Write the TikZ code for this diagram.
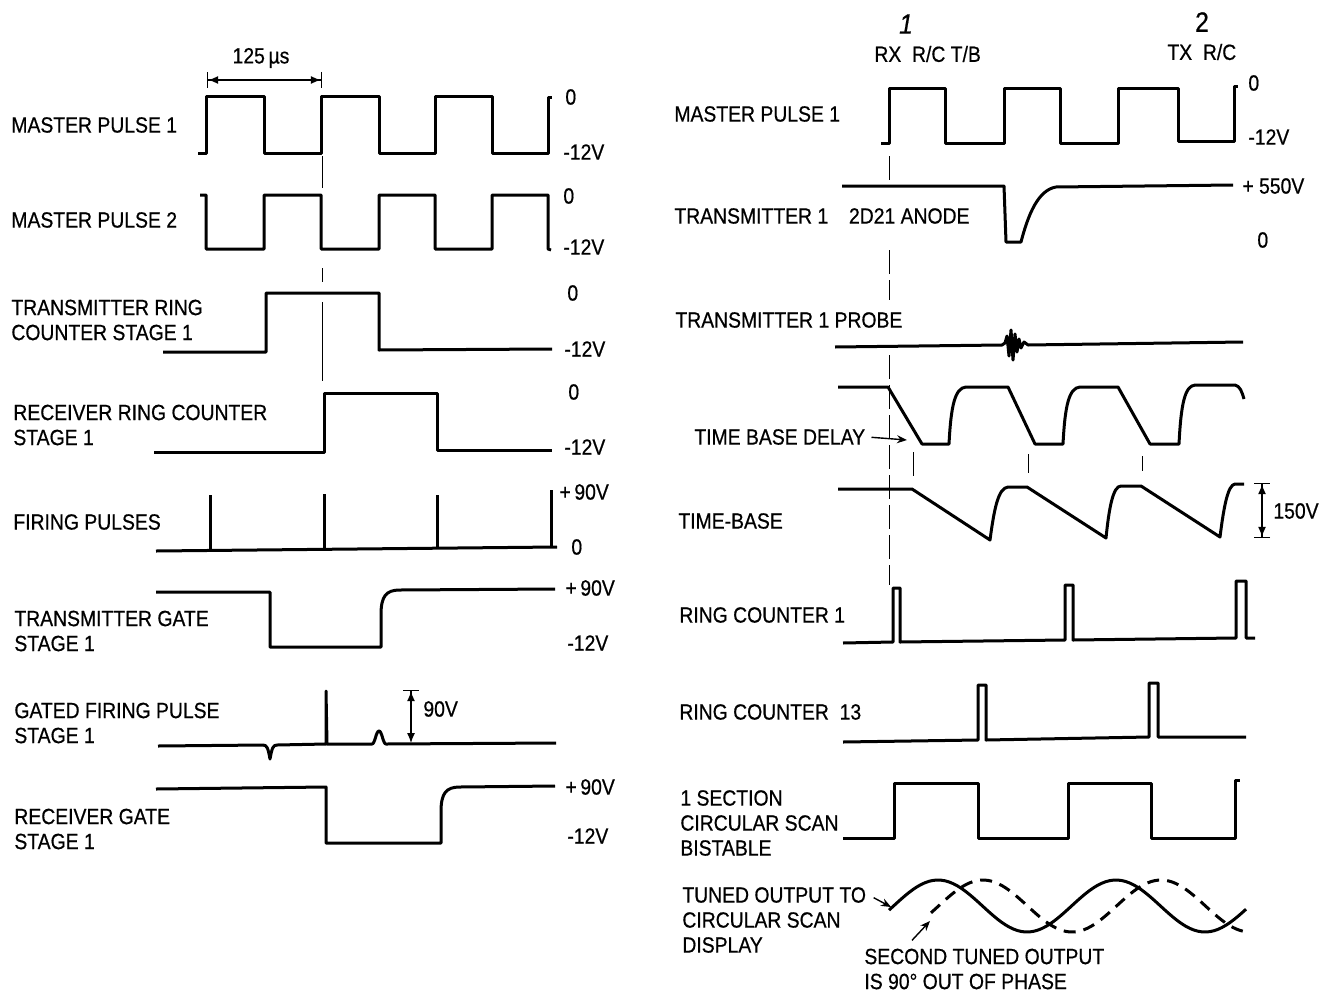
\documentclass[tikz,border=0pt]{standalone}
\usepackage{fontspec}
\setmainfont{Liberation Sans}[FakeStretch=0.88, FakeBold=0.6]
\usetikzlibrary{
  positioning,
  arrows.meta
}

\begin{document}
\begin{tikzpicture}[
  x=0.5pt, y=-0.5pt,
  every node/.style={font=\fontsize{11}{12.5}\selectfont, inner sep=1pt},
  lbl/.style={anchor=west, align=left},
  volt/.style={anchor=west},
  wave/.style={line width=1.5pt, line join=round},
  wave2/.style={wave, dash pattern=on 6pt off 4pt},
  guide/.style={line width=0.5pt},
  dimboth/.style={line width=0.6pt, {Bar[width=8pt]Latex[length=5pt,width=4pt]}-{Latex[length=5pt,width=4pt]Bar[width=8pt]}},
  dimup/.style={line width=0.6pt, {Bar[width=8pt]Latex[length=5pt,width=4pt]}-{Latex[length=5pt,width=4pt]}},
  arrow/.style={line width=0.7pt, ->, >={Stealth[length=5pt,width=4pt]}}
]
\useasboundingbox (0,0) rectangle (1326,995);

% Left column labels
\node[lbl] (mpA) at (9,125) {MASTER PULSE 1};
\node[lbl] (mpB) at (9,220) {MASTER PULSE 2};
\node[lbl] (txRing) at (9,320) {TRANSMITTER RING\\COUNTER STAGE 1};
\node[lbl] (rxRing) at (11,425) {RECEIVER RING COUNTER\\STAGE 1};
\node[lbl] (firing) at (11,522) {FIRING PULSES};
\node[lbl] (txGate) at (12,631) {TRANSMITTER GATE\\STAGE 1};
\node[lbl] (gated) at (12,723) {GATED FIRING PULSE\\STAGE 1};
\node[lbl] (rxGate) at (12,829) {RECEIVER GATE\\STAGE 1};

% Left column levels
\node (period) at (261,58) {125\,µs};
\node[volt] (mpAhi) at (563,97) {0};
\node[volt] (mpAlo) at (561,152) {-12V};
\node[volt] (mpBhi) at (561,196) {0};
\node[volt] (mpBlo) at (561,247) {-12V};
\node[volt] (txRinghi) at (565,293) {0};
\node[volt] (txRinglo) at (562,349) {-12V};
\node[volt] (rxRinghi) at (566,392) {0};
\node[volt] (rxRinglo) at (562,447) {-12V};
\node[volt] (firinghi) at (557,492) {+\,90V};
\node[volt] (firinglo) at (569,547) {0};
\node[volt] (txGatehi) at (563,588) {+\,90V};
\node[volt] (txGatelo) at (565,643) {-12V};
\node[volt] (gatedamp) at (421,709) {90V};
\node[volt] (rxGatehi) at (563,787) {+\,90V};
\node[volt] (rxGatelo) at (565,836) {-12V};

% Left column waveforms
\draw[wave] (198,153) -- (206,153) -- (206,97) -- (264,97) -- (264,153) -- (321,153) -- (321,97) -- (379,97) -- (379,153) -- (435,153) -- (435,97) -- (492,97) -- (492,153) -- (548,153) -- (548,98) -- (552,98);
\draw[wave] (200,195) -- (206,195) -- (206,249) -- (264,249) -- (264,195) -- (321,195) -- (321,249) -- (379,249) -- (379,195) -- (435,195) -- (435,249) -- (492,249) -- (492,195) -- (548,195) -- (548,249) -- (551,250);
\draw[wave] (163,352) -- (266,352) -- (266,293) -- (379,293) -- (379,350) -- (552,349);
\draw[wave] (154,452) -- (324,452) -- (324,393) -- (437,393) -- (437,450) -- (552,450);
\draw[wave] (156,551) -- (557,547);
\draw[wave] (210,550) -- (210,495) (324,550) -- (324,494) (437,549) -- (437,495) (551,547) -- (551,490);
\draw[wave] (156,592) -- (270,592) -- (270,647) -- (381,647) -- (381,615) .. controls (381,596) and (386,590) .. (400,590) -- (555,589);
\draw[wave] (158,746) -- (263,745) .. controls (267,745) and (268,748) .. (270,759) .. controls (272,748) and (273,745) .. (277,745) -- (326,744) -- (326,691) -- (327,744) -- (372,744) .. controls (375,744) and (376,731) .. (379,731) .. controls (382,731) and (383,744) .. (386,744) -- (556,743);
\draw[wave] (156,789) -- (326,787) -- (326,843) -- (441,843) -- (441,812) .. controls (441,793) and (446,787) .. (460,787) -- (555,786);

% Left column marks
\draw[guide] (322,156) -- (322,188) (322,268) -- (322,282) (322,302) -- (322,381);
\draw[dimboth] (207,80) -- (322,80);
\draw[dimup] (411,690) -- (411,743);

% Right column labels
\node (one) at (906,24) {\fontsize{14}{14}\selectfont\itshape 1};
\node (two) at (1202,22) {\fontsize{14}{14}\selectfont 2};
\node[volt] (rxTop) at (872,54) {RX\ \ R/C T/B};
\node[volt] (txTop) at (1165,52) {TX\ \ R/C};
\node[lbl] (mpR) at (672,114) {MASTER PULSE 1};
\node[lbl] (tx1) at (672,216) {TRANSMITTER 1};
\node[lbl, right=8pt of tx1] (anode) {2D21 ANODE};
\node[lbl] (probe) at (673,320) {TRANSMITTER 1 PROBE};
\node[lbl] (tbd) at (692,437) {TIME BASE DELAY};
\node[lbl] (timebase) at (676,521) {TIME-BASE};
\node[lbl] (rc1) at (677,615) {RING COUNTER 1};
\node[lbl] (rc13) at (677,712) {RING COUNTER\ \ 13};
\node[lbl] (bistable) at (678,823) {1 SECTION\\CIRCULAR SCAN\\BISTABLE};
\node[lbl] (tuned) at (680,920) {TUNED OUTPUT TO\\CIRCULAR SCAN\\DISPLAY};
\node[lbl] (second) at (862,969) {SECOND TUNED OUTPUT\\IS 90° OUT OF PHASE};

% Right column levels
\node[volt] (mpRhi) at (1246,83) {0};
\node[volt] (mpRlo) at (1246,137) {-12V};
\node[volt] (anodehi) at (1240,186) {+ 550V};
\node[volt] (anodelo) at (1255,240) {0};
\node[volt] (sweep) at (1271,511) {150V};

% Right column waveforms
\draw[wave] (881,143) -- (889,143) -- (889,89) -- (945,89) -- (945,143) -- (1004,143) -- (1004,89) -- (1060,89) -- (1060,143) -- (1118,143) -- (1118,89) -- (1178,89) -- (1178,141) -- (1234,141) -- (1234,87) -- (1238,87);
\draw[wave] (842,186) -- (1004,186) -- (1006,242) -- (1021,242) .. controls (1028,215) and (1038,190) .. (1056,187) -- (1233,185);
\draw[wave] (835,347) -- (1002,345) -- (1005,343) -- (1007,336) -- (1009,356) -- (1011,330) -- (1013,360) -- (1015,334) -- (1017,352) -- (1019,339) -- (1021,348) -- (1024,342) -- (1028,345) -- (1243,342);
\draw[wave] (838,387) -- (888,387) -- (922,444) -- (949,444) .. controls (951,405) and (955,388) .. (966,387) -- (1008,387) -- (1035,444) -- (1063,444) .. controls (1065,405) and (1069,388) .. (1080,387) -- (1118,387) -- (1150,444) -- (1179,444) .. controls (1181,403) and (1185,386) .. (1195,385) -- (1235,385) .. controls (1240,386) and (1242,392) .. (1244,399);
\draw[wave] (838,489) -- (912,489) -- (990,540) .. controls (994,510) and (998,488) .. (1008,487) -- (1027,487) -- (1106,538) .. controls (1109,508) and (1113,486) .. (1121,486) -- (1141,486) -- (1220,537) .. controls (1224,505) and (1228,485) .. (1235,484) -- (1244,484);
\draw[wave] (843,643) -- (893,642) -- (893,588) -- (900,588) -- (900,642) -- (1065,640) -- (1065,585) -- (1073,585) -- (1073,640) -- (1236,638) -- (1236,581) -- (1246,581) -- (1246,638) -- (1255,638);
\draw[wave] (843,742) -- (978,740) -- (978,685) -- (986,685) -- (986,740) -- (1149,737) -- (1149,683) -- (1158,683) -- (1158,737) -- (1246,737);
\draw[wave] (843,838) -- (894,838) -- (894,783) -- (978,783) -- (978,838) -- (1068,838) -- (1068,783) -- (1151,783) -- (1151,838) -- (1235,838) -- (1235,780) -- (1240,780);
\draw[wave, domain=889:1246, samples=90, variable=\t] plot (\t, {906 - 26*cos(2.0225*(\t-938))});
\draw[wave2, domain=931:1247, samples=90, variable=\t] plot (\t, {906 - 26*cos(2.0225*(\t-983))});

% Right column marks
\draw[guide, dash pattern=on 12pt off 3pt] (889,156) -- (889,180) (889,250) -- (889,300) (889,355) -- (889,585);
\draw[guide] (913,452) -- (913,476) (1028,454) -- (1028,473) (1142,456) -- (1142,471);
\draw[dimboth] (1262,483) -- (1262,538);

% Pointers
\coordinate (tbdTip) at (907,440);
\coordinate (tunedTip) at (891,907);
\coordinate (secondTip) at (930,921);
\draw[arrow, shorten <=2pt] (tbd.east) -- (tbdTip);
\draw[arrow, shorten <=3pt] ([yshift=-5pt]tuned.north east) -- (tunedTip);
\draw[arrow] ([xshift=25pt,yshift=3pt]second.north west) -- (secondTip);

\end{tikzpicture}
\end{document}
